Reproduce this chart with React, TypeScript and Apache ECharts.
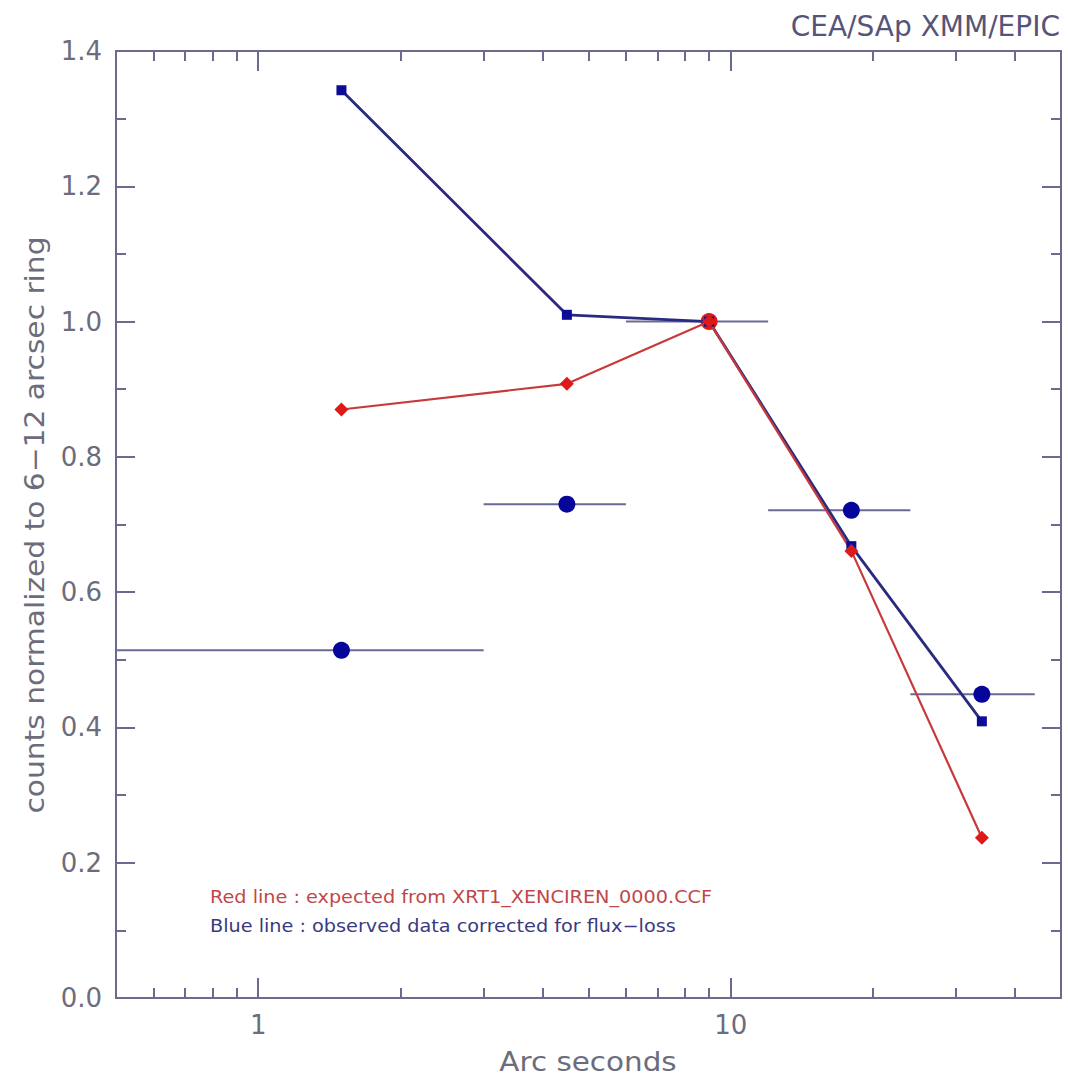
import React, { useEffect, useRef } from "react";
import * as echarts from "echarts";

// ---- data ----
const ringCenters = [1.5, 4.5, 9, 18, 34];
const ringLo = [0, 3, 6, 12, 24];
const ringHi = [3, 6, 12, 24, 44];
const observed = [0.514, 0.730, 1.0, 0.721, 0.449];
const corrected = [1.342, 1.010, 1.0, 0.668, 0.409];
const expected = [0.870, 0.908, 1.0, 0.661, 0.237];

const xMin = 0.5;
const xMax = 50;
const xMajorTicks = [1, 10];
const xMinorTicks = [0.6, 0.7, 0.8, 0.9, 2, 3, 4, 5, 6, 7, 8, 9, 20, 30, 40];
const yMajorTicks = [0, 0.2, 0.4, 0.6, 0.8, 1.0, 1.2, 1.4];
const yMinorTicks = [0.1, 0.3, 0.5, 0.7, 0.9, 1.1, 1.3];

const titleText = "CEA/SAp XMM/EPIC";
const xName = "Arc seconds";
const yName = "counts normalized to 6\u221212 arcsec ring";
const redNote = "Red line : expected from XRT1_XENCIREN_0000.CCF";
const blueNote = "Blue line : observed data corrected for flux\u2212loss";

const L = Math.log10;
const AXIS = "#6a6a8e";
const TEXT = "#6c6c7c";
const FONT = "DejaVu Sans";

export default function App() {
  const ref = useRef<HTMLDivElement>(null);
  useEffect(() => {
    if (!ref.current) return;
    const chart = echarts.init(ref.current, null, { renderer: "svg" });

    const grid = { left: 116, top: 51, right: 7, bottom: 84 };
    const lx = L(xMin);
    const hx = L(xMax);

    const baseX = (pos: string, ticks: number[], len: number, labels: boolean, line: boolean) => ({
      type: "value",
      gridIndex: 0,
      position: pos,
      min: lx,
      max: hx,
      splitLine: { show: false },
      axisLine: { show: line, onZero: false, lineStyle: { color: AXIS, width: 2 } },
      axisTick: {
        show: true,
        inside: true,
        length: len,
        customValues: ticks.map(L),
        lineStyle: { color: AXIS, width: 2 },
      },
      axisLabel: labels
        ? {
            show: true,
            customValues: ticks.map(L),
            formatter: (v: number) => String(Math.round(Math.pow(10, v))),
            color: TEXT,
            fontFamily: FONT,
            fontSize: 26,
            margin: 14,
          }
        : { show: false },
    });

    const baseY = (pos: string, ticks: number[], len: number, labels: boolean, line: boolean) => ({
      type: "value",
      gridIndex: 0,
      position: pos,
      min: 0,
      max: 1.4,
      splitLine: { show: false },
      axisLine: { show: line, onZero: false, lineStyle: { color: AXIS, width: 2 } },
      axisTick: {
        show: true,
        inside: true,
        length: len,
        customValues: ticks,
        lineStyle: { color: AXIS, width: 2 },
      },
      axisLabel: labels
        ? {
            show: true,
            customValues: ticks,
            formatter: (v: number) => v.toFixed(1),
            color: TEXT,
            fontFamily: FONT,
            fontSize: 26,
            margin: 14,
          }
        : { show: false },
    });

    const errData = ringCenters.map((_, i) => [
      L(Math.max(ringLo[i], xMin)),
      L(Math.min(ringHi[i], xMax)),
      observed[i],
    ]);

    chart.setOption({
      animation: false,
      backgroundColor: "#ffffff",
      grid,
      xAxis: [
        baseX("bottom", xMajorTicks, 20, true, true),
        baseX("bottom", xMinorTicks, 10, false, false),
        baseX("top", xMajorTicks, 20, false, true),
        baseX("top", xMinorTicks, 10, false, false),
      ],
      yAxis: [
        baseY("left", yMajorTicks, 19, true, true),
        baseY("left", yMinorTicks, 10, false, false),
        baseY("right", yMajorTicks, 19, false, true),
        baseY("right", yMinorTicks, 10, false, false),
      ],
      series: [
        {
          type: "custom",
          xAxisIndex: 0,
          yAxisIndex: 0,
          encode: { x: [0, 1], y: 2 },
          data: errData,
          renderItem: (params: any, api: any) => {
            const y = api.value(2);
            const p1 = api.coord([api.value(0), y]);
            const p2 = api.coord([api.value(1), y]);
            return {
              type: "line",
              shape: { x1: p1[0], y1: p1[1], x2: p2[0], y2: p2[1] },
              style: { stroke: "#6a6a96", lineWidth: 2 },
            };
          },
        },
        {
          type: "line",
          xAxisIndex: 0,
          yAxisIndex: 0,
          data: ringCenters.map((x, i) => [L(x), corrected[i]]),
          symbol: "rect",
          symbolSize: 10,
          itemStyle: { color: "#0c0c96", opacity: 1 },
          lineStyle: { color: "#2a2a80", width: 2.8 },
        },
        {
          type: "line",
          xAxisIndex: 0,
          yAxisIndex: 0,
          data: ringCenters.map((x, i) => [L(x), expected[i]]),
          symbol: "diamond",
          symbolSize: 14,
          itemStyle: { color: "#dc1a1a", opacity: 1 },
          lineStyle: { color: "#c83a3a", width: 2.2 },
        },
        {
          type: "scatter",
          xAxisIndex: 0,
          yAxisIndex: 0,
          data: ringCenters.map((x, i) => ({
            value: [L(x), observed[i]],
            itemStyle: { color: i === 2 ? "#dc1a1a" : "#06069a", opacity: 1 },
          })),
          symbol: "circle",
          symbolSize: 17,
        },
      ],
      graphic: [
        {
          type: "text",
          x: 1060,
          y: 26,
          style: {
            text: titleText,
            fill: "#55557a",
            font: `28px '${FONT}'`,
            align: "right",
            verticalAlign: "middle",
          },
        },
        {
          type: "text",
          x: 35,
          y: 525,
          rotation: Math.PI / 2,
          scaleX: 1.1,
          style: {
            text: yName,
            fill: TEXT,
            font: `27px '${FONT}'`,
            align: "center",
            verticalAlign: "middle",
          },
        },
        {
          type: "text",
          x: 588,
          y: 1062,
          scaleX: 1.09,
          style: {
            text: xName,
            fill: TEXT,
            font: `27px '${FONT}'`,
            align: "center",
            verticalAlign: "middle",
          },
        },
        {
          type: "text",
          x: 210,
          y: 897,
          scaleX: 1.1,
          style: {
            text: redNote,
            fill: "#c04848",
            font: `17.5px '${FONT}'`,
            verticalAlign: "middle",
          },
        },
        {
          type: "text",
          x: 210,
          y: 926,
          scaleX: 1.1,
          style: {
            text: blueNote,
            fill: "#3a3a80",
            font: `17.5px '${FONT}'`,
            verticalAlign: "middle",
          },
        },
      ],
    });
    return () => chart.dispose();
  }, []);

  return (
    <div
      ref={ref}
      style={{ position: "absolute", left: 0, top: 0, width: 1068, height: 1082 }}
    />
  );
}
